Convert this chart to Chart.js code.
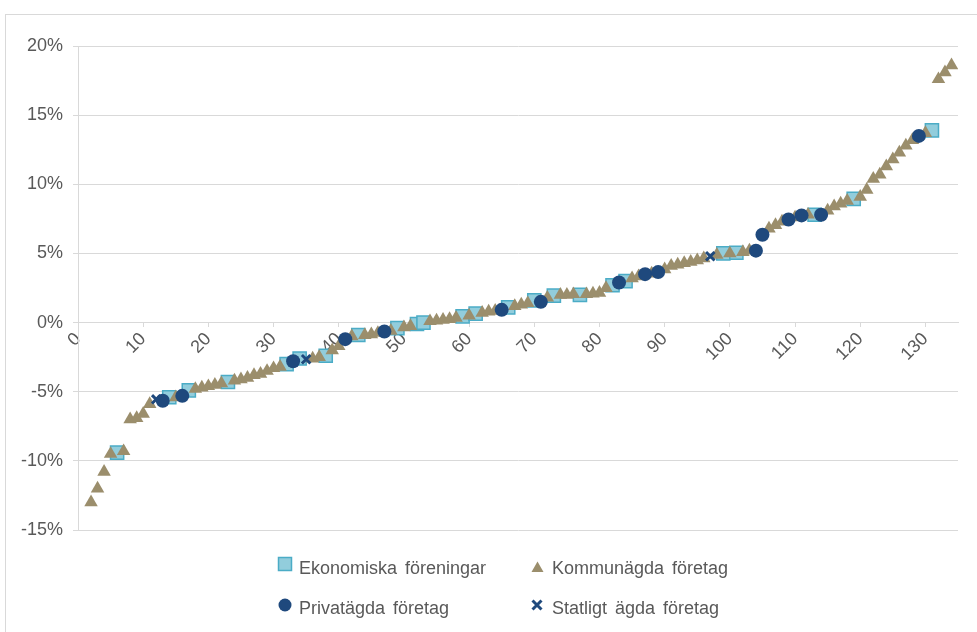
<!DOCTYPE html>
<html>
<head>
<meta charset="utf-8">
<script src="https://cdn.jsdelivr.net/npm/chart.js@4.4.1/dist/chart.umd.min.js"></script>
<style>
  html, body { margin: 0; padding: 0; background: #fff; }
  #wrap { position: relative; width: 977px; height: 632px; overflow: hidden;
          font-family: "Liberation Sans", Arial, sans-serif; color: #595959; }
  #frame { position: absolute; left: 5px; top: 14px; width: 1100px; height: 800px;
           border: 1px solid #d9d9d9; box-sizing: border-box; }
  #chart { position: absolute; left: 0; top: 0; }
  .lg-mark { position: absolute; }
  .lg-text { position: absolute; font-size: 18px; line-height: 20px; word-spacing: 3px; white-space: nowrap; }
</style>
</head>
<body>
<div id="wrap">
  <div id="frame"></div>
  <canvas id="chart" width="977" height="632"></canvas>
  <div id="legend"></div>
</div>
<script>
// Ranked result per company (x = rank, y = result in percent), split by ownership type
const ekonomiskaRank  = [6, 14, 17, 23, 32, 34, 38, 43, 49, 52, 53, 59, 61, 66, 70, 73, 77, 82, 84, 99, 101, 113, 119, 131];
const ekonomiskaValue = [-9.4, -5.4, -4.9, -4.3, -3.0, -2.6, -2.4, -0.9, -0.4, -0.1, 0.0, 0.45, 0.65, 1.1, 1.6, 1.95, 2.0, 2.7, 3.0, 5.0, 5.05, 7.8, 8.95, 13.9];

const kommunRank  = [2, 3, 4, 5, 7, 8, 9, 10, 11, 15, 18, 19, 20, 21, 22, 24, 25, 26, 27, 28, 29, 30, 31, 36, 37, 39, 40, 42, 44, 45, 46, 48, 50, 51,
                     54, 55, 56, 57, 58, 60, 62, 63, 64, 67, 68, 69, 72, 74, 75, 76, 78, 79, 80, 81, 85, 86, 88, 90, 91, 92, 93, 94, 95, 96, 98,
                     100, 102, 103, 106, 107, 108, 110, 112, 115, 116, 117, 118, 120, 121, 122, 123, 124, 125, 126, 127, 128, 130, 132, 133, 134];
const kommunValue = [-13.0, -12.0, -10.8, -9.5, -9.3, -7.0, -6.9, -6.6, -5.9, -5.4, -4.8, -4.7, -4.6, -4.5, -4.4, -4.2, -4.1, -4.0, -3.8, -3.7, -3.5, -3.3, -3.2, -2.6, -2.5, -2.0, -1.7, -1.0, -0.9, -0.85, -0.75, -0.6, -0.35, -0.25,
                     0.1, 0.15, 0.2, 0.25, 0.35, 0.5, 0.7, 0.8, 0.85, 1.2, 1.3, 1.4, 1.8, 2.0, 2.0, 2.05, 2.05, 2.1, 2.15, 2.5, 3.2, 3.35, 3.55, 3.85, 4.1, 4.2, 4.3, 4.4, 4.5, 4.65, 4.9,
                     5.0, 5.1, 5.2, 6.8, 7.05, 7.3, 7.6, 7.8, 8.1, 8.4, 8.6, 8.8, 9.1, 9.6, 10.4, 10.7, 11.3, 11.8, 12.3, 12.8, 13.2, 13.7, 17.6, 18.1, 18.6];

const privatRank  = [13, 16, 33, 41, 47, 65, 71, 83, 87, 89, 104, 105, 109, 111, 114, 129];
const privatValue = [-5.65, -5.3, -2.8, -1.2, -0.65, 0.92, 1.5, 2.9, 3.5, 3.65, 5.2, 6.35, 7.45, 7.75, 7.8, 13.5];

const statligtRank  = [12, 35, 97];
const statligtValue = [-5.55, -2.65, 4.8];

const yTicks = [-15, -10, -5, 0, 5, 10, 15, 20];

const seriesNames = ['Ekonomiska föreningar', 'Kommunägda företag', 'Privatägda företag', 'Statligt ägda företag'];

const toPoints = (xs, ys) => xs.map((x, i) => ({ x: x, y: ys[i] }));

const FONT = { family: '"Liberation Sans", Arial, sans-serif', size: 18 };
const TEXT = '#595959';
const GRID = '#d9d9d9';

new Chart(document.getElementById('chart'), {
  type: 'scatter',
  data: {
    datasets: [
      { label: seriesNames[0], data: toPoints(ekonomiskaRank, ekonomiskaValue), order: 4,
        pointStyle: 'rect', pointRadius: 9.3, backgroundColor: '#92CDDC', borderColor: '#4BACC6', borderWidth: 1.5 },
      { label: seriesNames[1], data: toPoints(kommunRank, kommunValue), order: 3,
        pointStyle: 'triangle', pointRadius: 7.8, backgroundColor: '#9B8E6C', borderColor: '#9B8E6C', borderWidth: 0 },
      { label: seriesNames[2], data: toPoints(privatRank, privatValue), order: 2,
        pointStyle: 'circle', pointRadius: 7, backgroundColor: '#1F497D', borderColor: '#1F497D', borderWidth: 0 },
      { label: seriesNames[3], data: toPoints(statligtRank, statligtValue), order: 1,
        pointStyle: 'crossRot', pointRadius: 6, backgroundColor: '#1F497D', borderColor: '#1F497D', borderWidth: 3 }
    ]
  },
  options: {
    responsive: false,
    animation: false,
    layout: { padding: { left: 0, right: 19, top: 46, bottom: 102 } },
    plugins: { legend: { display: false }, tooltip: { enabled: false } },
    scales: {
      x: {
        type: 'linear',
        position: { y: 0 },
        min: 0, max: 135,
        grid: { display: true, drawOnChartArea: false, color: GRID, tickLength: 4 },
        border: { display: true, color: GRID },
        ticks: { stepSize: 10, includeBounds: false, autoSkip: false, minRotation: 45, maxRotation: 45,
                 padding: 2, color: TEXT, font: FONT }
      },
      y: {
        min: yTicks[0], max: yTicks[yTicks.length - 1],
        afterFit: s => { s.width = 78; },
        afterBuildTicks: s => { s.ticks = yTicks.map(v => ({ value: v })); },
        grid: { color: GRID, tickLength: 5 },
        border: { color: GRID },
        ticks: { padding: 10, color: TEXT, font: FONT, callback: v => v + '%' }
      }
    }
  }
});

// Legend: two columns, two rows below the plot
const legendItems = [
  { name: seriesNames[0], left: 277, top: 556, text: { left: 299, top: 558 },
    svg: '<svg width="16" height="16"><rect x="1.5" y="1.5" width="13" height="13" fill="#92CDDC" stroke="#4BACC6" stroke-width="1.5"/></svg>' },
  { name: seriesNames[1], left: 531, top: 559, text: { left: 552, top: 558 },
    svg: '<svg width="13" height="12"><polygon points="6.5,0.5 12.5,11 0.5,11" fill="#9B8E6C"/></svg>' },
  { name: seriesNames[2], left: 278, top: 598, text: { left: 299, top: 598 },
    svg: '<svg width="14" height="14"><circle cx="7" cy="7" r="6.5" fill="#1F497D"/></svg>' },
  { name: seriesNames[3], left: 531, top: 597, text: { left: 552, top: 598 },
    svg: '<svg width="12" height="12"><path d="M1.5,1.5 L10.5,10.5 M10.5,1.5 L1.5,10.5" stroke="#1F497D" stroke-width="3"/></svg>' }
];
const legend = document.getElementById('legend');
legendItems.forEach(it => {
  const m = document.createElement('div');
  m.className = 'lg-mark';
  m.style.left = it.left + 'px';
  m.style.top = it.top + 'px';
  m.innerHTML = it.svg;
  legend.appendChild(m);
  const t = document.createElement('div');
  t.className = 'lg-text';
  t.style.left = it.text.left + 'px';
  t.style.top = it.text.top + 'px';
  t.textContent = it.name;
  legend.appendChild(t);
});
</script>
</body>
</html>
